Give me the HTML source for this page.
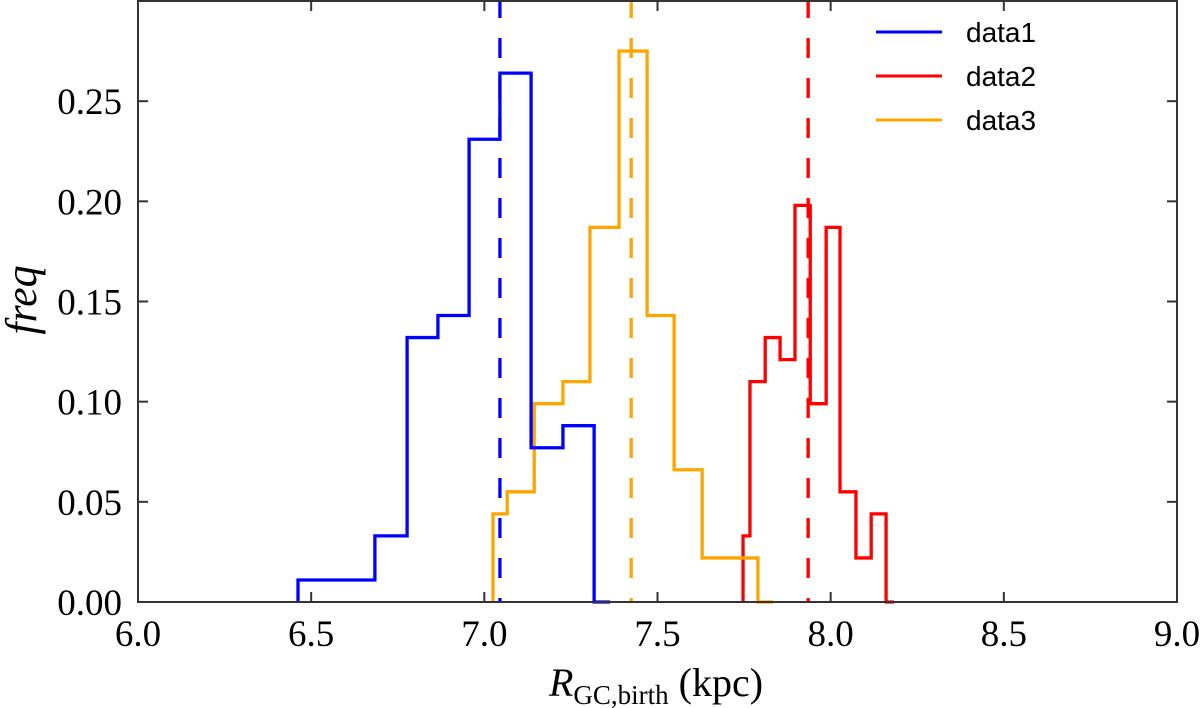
<!DOCTYPE html>
<html><head><meta charset="utf-8"><style>
html,body{margin:0;padding:0;background:#fff;}
svg{display:block;}
</style></head><body>
<svg id="chart" width="1200" height="708" xmlns="http://www.w3.org/2000/svg">
<rect x="0" y="0" width="1200" height="708" fill="#fff"/>
<g id="series"></g>
<g id="axes"></g>
<g>
  <line x1="876" y1="32" x2="942" y2="32" stroke="#0000ff" stroke-width="3"/>
  <text x="966" y="42" font-family="Liberation Sans, sans-serif" font-size="28">data1</text>
  <line x1="876" y1="76" x2="942" y2="76" stroke="#ff0000" stroke-width="3"/>
  <text x="966" y="86" font-family="Liberation Sans, sans-serif" font-size="28">data2</text>
  <line x1="876" y1="120" x2="942" y2="120" stroke="#ffa500" stroke-width="3"/>
  <text x="966" y="130" font-family="Liberation Sans, sans-serif" font-size="28">data3</text>
</g>
<text x="656" y="696" text-anchor="middle" font-family="Liberation Serif, serif" font-size="40"><tspan font-style="italic">R</tspan><tspan font-size="27" dy="8">GC,birth</tspan><tspan dy="-8"> (kpc)</tspan></text>
<text transform="translate(36,300) rotate(-90)" text-anchor="middle" font-family="Liberation Serif, serif" font-style="italic" font-size="44">freq</text>
</svg>
<script>
const xTicks = [6.0, 6.5, 7.0, 7.5, 8.0, 8.5, 9.0];
const xTickLabels = ["6.0", "6.5", "7.0", "7.5", "8.0", "8.5", "9.0"];
const yTicks = [0, 0.05, 0.10, 0.15, 0.20, 0.25];
const yTickLabels = ["0.00", "0.05", "0.10", "0.15", "0.20", "0.25"];
const data1Edges = [6.462, 6.684, 6.777, 6.866, 6.956, 7.045, 7.135, 7.227, 7.317, 7.363];
const data1Values = [0.011, 0.033, 0.132, 0.143, 0.231, 0.264, 0.077, 0.088, 0];
const data2Edges = [7.747, 7.767, 7.811, 7.854, 7.897, 7.941, 7.987, 8.027, 8.073, 8.117, 8.160, 8.183];
const data2Values = [0.033, 0.110, 0.132, 0.121, 0.198, 0.099, 0.187, 0.055, 0.022, 0.044, 0];
const data3Edges = [7.025, 7.066, 7.144, 7.227, 7.305, 7.389, 7.470, 7.548, 7.629, 7.790, 7.834];
const data3Values = [0.044, 0.055, 0.099, 0.110, 0.187, 0.275, 0.143, 0.066, 0.022, 0];
const meanValues = [7.045, 7.935, 7.424];

const L = 138, R = 1177, T = 1, B = 602;
const xMin = 6, xMax = 9, yMin = 0, yMax = 0.30;
function xs(v){ return L + (v - xMin) / (xMax - xMin) * (R - L); }
function ys(v){ return B - (v - yMin) / (yMax - yMin) * (B - T); }
const NS = "http://www.w3.org/2000/svg";
const series = document.getElementById('series');
const axes = document.getElementById('axes');

function stepPath(edges, vals){
  let d = "M" + xs(edges[0]) + "," + ys(0);
  for (let i = 0; i < vals.length; i++){
    d += " L" + xs(edges[i]) + "," + ys(vals[i]) + " L" + xs(edges[i+1]) + "," + ys(vals[i]);
  }
  return d;
}
const colors = ["#0000ff", "#ff0000", "#ffa500"];
const allEdges = [data1Edges, data2Edges, data3Edges];
const allVals = [data1Values, data2Values, data3Values];
const order = [1, 2, 0];
order.forEach(function(i){
  const p = document.createElementNS(NS, 'path');
  p.setAttribute('d', stepPath(allEdges[i], allVals[i]));
  p.setAttribute('fill', 'none');
  p.setAttribute('stroke', colors[i]);
  p.setAttribute('stroke-width', '3.3');
  p.setAttribute('stroke-linejoin', 'miter');
  
  
  series.appendChild(p);
});
meanValues.forEach(function(m, i){
  const l = document.createElementNS(NS, 'line');
  l.setAttribute('x1', xs(m)); l.setAttribute('x2', xs(m));
  l.setAttribute('y1', -2); l.setAttribute('y2', B);
  l.setAttribute('stroke', colors[i]);
  l.setAttribute('stroke-width', '3.3');
  l.setAttribute('stroke-dasharray', '20 20');
  
  
  series.appendChild(l);
});

const frame = document.createElementNS(NS, 'rect');
frame.setAttribute('x', L); frame.setAttribute('y', T);
frame.setAttribute('width', R - L); frame.setAttribute('height', B - T);
frame.setAttribute('fill', 'none'); frame.setAttribute('stroke', '#333'); frame.setAttribute('stroke-width', '2');


axes.appendChild(frame);

xTicks.forEach(function(v, i){
  const x = xs(v);
  [[B, B - 10], [T, T + 10]].forEach(function(yy){
    const t = document.createElementNS(NS, 'line');
    t.setAttribute('x1', x); t.setAttribute('x2', x);
    t.setAttribute('y1', yy[0]); t.setAttribute('y2', yy[1]);
    t.setAttribute('stroke', '#333'); t.setAttribute('stroke-width', '2');
    
    
    axes.appendChild(t);
  });
  const tx = document.createElementNS(NS, 'text');
  tx.setAttribute('x', x); tx.setAttribute('y', B + 44);
  tx.setAttribute('text-anchor', 'middle');
  tx.setAttribute('font-family', 'Liberation Serif, serif');
  tx.setAttribute('font-size', '37');
  tx.textContent = xTickLabels[i];
  
  
  axes.appendChild(tx);
});
yTicks.forEach(function(v, i){
  const y = ys(v);
  [[L, L + 10], [R, R - 10]].forEach(function(xx){
    const t = document.createElementNS(NS, 'line');
    t.setAttribute('x1', xx[0]); t.setAttribute('x2', xx[1]);
    t.setAttribute('y1', y); t.setAttribute('y2', y);
    t.setAttribute('stroke', '#333'); t.setAttribute('stroke-width', '2');
    
    
    axes.appendChild(t);
  });
  const tx = document.createElementNS(NS, 'text');
  tx.setAttribute('x', L - 16); tx.setAttribute('y', y + 13);
  tx.setAttribute('text-anchor', 'end');
  tx.setAttribute('font-family', 'Liberation Serif, serif');
  tx.setAttribute('font-size', '37');
  tx.textContent = yTickLabels[i];
  
  
  axes.appendChild(tx);
});
</script>
</body></html>
